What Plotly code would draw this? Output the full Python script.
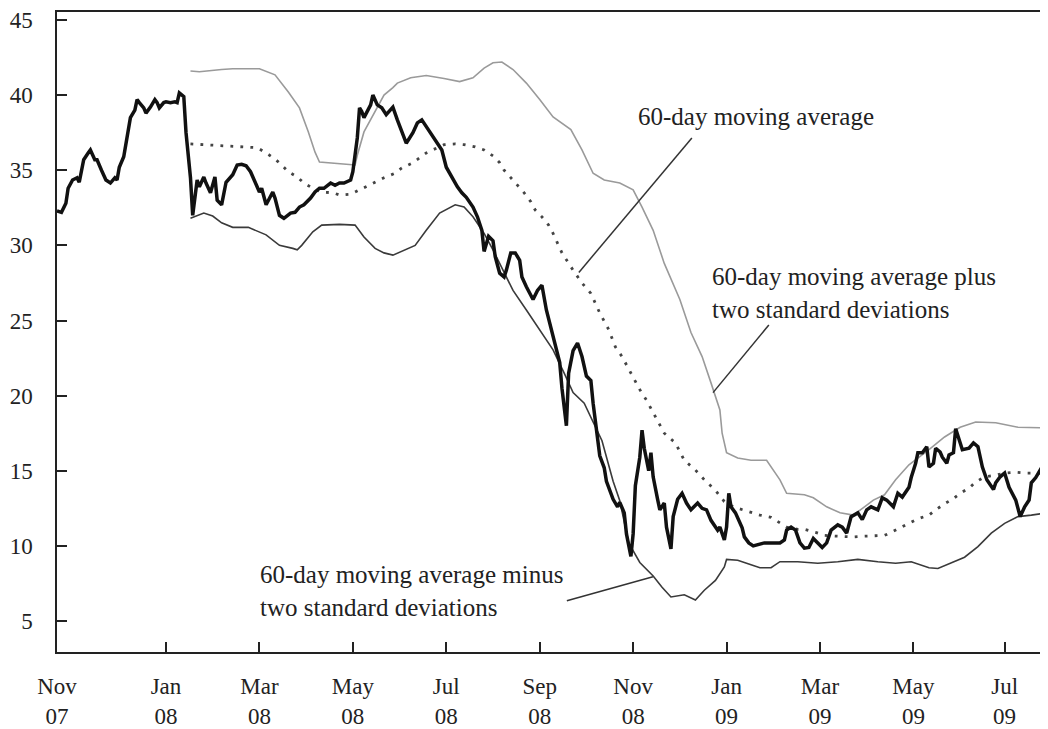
import plotly.graph_objects as go

# x = trading-day index from the start of the sample (late Oct 2007)
price_day = [0, 2, 4, 5, 7, 9, 10, 12, 14, 15, 17, 18, 20, 22, 24, 26, 27, 28, 30, 31, 33, 35, 36, 37, 39, 40,
             42, 44, 45, 46, 48, 49, 51, 53, 54, 55, 57, 58, 59, 60, 61, 62, 63, 64, 66, 67, 69, 71, 72, 74,
             76, 79, 81, 83, 85, 87, 89, 91, 92, 94, 97, 98, 100, 102, 105, 107, 109, 111, 114, 116, 118, 120,
             123, 125, 127, 129, 132, 133, 135, 136, 137, 138, 141, 142, 144, 146, 148,
             151, 153, 155, 157, 160, 162, 164, 166, 169, 171, 173, 175, 178, 180, 182, 184, 187, 189, 191, 192,
             194, 196, 197, 199, 201, 202, 204, 206, 208, 209, 211, 214, 216, 218, 220, 222,
             224, 226, 227, 229, 230, 232, 234, 236, 238, 240, 241, 243, 244, 246, 247, 250, 252, 253, 255, 256,
             258, 259, 260, 262, 263, 264, 266, 267, 268, 270, 271, 273, 274, 276, 277, 279, 281, 283, 285, 288,
             290, 292, 294, 297,
             298, 300, 301, 302, 303, 305, 307, 308, 309, 311, 313, 316, 318, 320, 322, 325, 327, 328, 330, 332,
             334, 336, 338, 340, 342, 344, 346, 348, 351, 353, 355, 357, 360, 362, 364, 366, 369, 371,
             373, 376, 378, 380, 383, 384, 386, 387, 389, 391, 392, 394, 395, 397, 398, 400, 401, 403, 404, 406,
             407, 410, 412, 414, 416, 418, 419, 421, 422, 424, 426, 428, 431, 432, 433, 435, 437, 438, 440, 442, 445]
price_val = [32.3, 32.2, 32.8, 33.8, 34.35, 34.5, 34.2, 35.7, 36.15, 36.35, 35.7, 35.7, 35.0, 34.35, 34.15, 34.5,
             34.35, 35.2, 35.9, 36.8, 38.5, 39.0, 39.7, 39.5, 39.15, 38.8,
             39.2, 39.7, 39.5, 39.15, 39.5, 39.55, 39.5, 39.55, 39.5, 40.15, 39.9, 37.5, 35.9, 34.5, 32.0, 33.0,
             34.35, 33.9, 34.55, 34.15, 33.5, 34.55, 33.0, 32.7,
             34.2, 34.7, 35.35, 35.4, 35.3, 34.9, 34.2, 33.55, 33.8, 32.7, 33.55, 33.15, 32.0, 31.8, 32.15, 32.2,
             32.55, 32.7, 33.15, 33.55, 33.8, 33.8,
             34.15, 34.0, 34.15, 34.15, 34.35, 34.9, 37.15, 39.15, 38.9, 38.5, 39.35, 40.0, 39.35, 39.15, 38.7,
             39.2, 38.35, 37.5, 36.8, 37.5, 38.15, 38.35, 37.9, 37.2, 36.8, 36.35, 35.2, 34.35, 33.9, 33.5, 33.2,
             32.55, 31.9, 31.0, 29.6,
             30.6, 30.3, 29.25, 28.15, 27.9, 28.35, 29.5, 29.5, 29.0, 27.9, 27.25, 26.4, 27.0, 27.35, 25.7, 24.5,
             23.2, 22.2, 20.5, 18.0, 21.5, 23.0, 23.5, 22.6, 21.3, 21.0, 19.5, 17.3, 16.0, 15.2, 14.3, 13.1,
             12.6, 12.9, 12.2, 10.8,
             9.3, 10.8, 14.0, 15.9, 17.7, 16.5, 15.0, 16.2, 14.6, 13.1, 12.4, 12.85, 11.25, 9.8, 11.95, 13.1,
             13.5, 12.85, 12.4, 12.85,
             12.5, 12.4, 11.7, 11.05,
             11.25, 10.4, 11.25, 13.5, 12.6, 12.2, 11.5, 11.2, 10.6, 10.2, 10.0, 10.1, 10.2, 10.2, 10.2, 10.2,
             10.4, 11.05, 11.25, 11.05,
             10.2, 9.85, 9.9, 10.5, 10.2, 9.9, 10.2, 11.05, 11.4, 11.25, 10.85, 11.95, 12.2, 11.75, 12.4, 12.6,
             12.4, 13.2,
             13.05, 12.6, 13.5, 13.25, 13.9, 14.55, 15.5, 16.2, 16.2, 16.6, 15.25, 15.5, 16.5, 16.25, 15.9, 15.5,
             16.05, 16.2, 17.8, 16.85,
             16.4, 16.5, 16.85, 16.6, 15.25, 14.4, 14.2, 13.75, 14.2, 14.6, 14.85, 13.9, 13.05, 12.4, 11.95, 12.6,
             13.05, 14.2, 14.55, 15.05, 14.55]

ma_day = [60, 76, 90, 94, 98, 101, 104, 108, 111, 115, 119, 124, 127, 132, 136, 139, 143, 147, 152, 155, 160,
          163, 166, 171, 174, 179, 183, 188, 192, 196, 199, 201, 204, 207, 210, 213, 215, 218, 221, 223, 227, 232,
          236, 240, 244, 248, 251, 254, 258, 262, 265, 269, 273, 278, 282, 287, 291, 296, 300, 304, 308, 312, 316,
          321, 325, 328, 333, 336, 341, 345, 350, 354, 358, 363, 367, 372, 375, 379, 383, 387, 392, 395, 399, 403,
          406, 410, 413, 417, 422, 426, 431, 435, 440, 445]
ma_val = [36.75, 36.6, 36.5, 36.15, 35.75, 35.35, 34.9, 34.55, 34.15, 33.8, 33.55, 33.5, 33.35, 33.4, 33.7, 33.9,
          34.2, 34.5, 34.8, 35.15, 35.5, 35.8, 36.15, 36.5, 36.7, 36.75, 36.7, 36.55, 36.35, 35.95, 35.5, 35.0,
          34.5, 33.95, 33.5, 32.9, 32.35, 31.9, 31.35, 30.8, 29.5, 28.35, 27.5, 26.8, 25.5, 24.4, 23.25, 22.6,
          21.5, 20.4, 19.7, 18.6, 17.5, 16.85, 15.7, 15.05, 14.4, 13.7, 12.95, 12.6, 12.4, 12.2, 12.05, 11.9,
          11.5, 11.25, 11.1, 11.1, 10.9, 10.7, 10.65, 10.6, 10.6, 10.65, 10.65, 10.7, 10.9, 11.2, 11.45, 11.8,
          12.05, 12.4, 12.8, 13.15, 13.5, 13.85, 14.25, 14.6, 14.7, 14.85, 14.9, 14.85, 14.85, 14.8]

upper_day = [60, 64, 74, 79, 91, 92, 98, 104, 109, 113, 116, 118, 124, 130, 134, 135, 138, 143, 147, 151, 153,
             159, 166, 174, 181, 187, 192, 196, 200, 205, 211, 217, 223, 231, 236, 241, 246, 253, 259, 263, 268,
             273, 280, 285, 290, 294, 298, 299, 301, 306, 312, 319, 322, 325, 328, 336, 340, 346, 352, 358, 363,
             367, 372, 377, 383, 392, 399, 406, 413, 422, 432, 444]
upper_val = [41.6, 41.55, 41.7, 41.75, 41.75, 41.7, 41.35, 40.2, 39.15, 37.55, 36.2, 35.55, 35.5, 35.4, 35.35,
             36.0, 37.55, 38.9, 40.0, 40.5, 40.8, 41.15, 41.3, 41.1, 40.9, 41.15, 41.8, 42.15, 42.2, 41.7, 40.8,
             39.7, 38.55, 37.7, 36.35, 34.8, 34.35, 34.15, 33.7, 32.55, 31.0, 28.8, 26.4, 24.2, 22.6, 20.85,
             19.05, 17.5, 16.2, 15.85, 15.7, 15.7, 15.05, 14.4, 13.5, 13.4, 13.2, 12.6, 12.2, 12.05, 12.6, 13.05,
             13.4, 14.4, 15.4, 16.4, 17.25, 17.9, 18.25, 18.2, 17.9, 17.85]

lower_day = [60, 66, 70, 74, 79, 86, 94, 100, 106, 108, 110, 115, 119, 127, 134, 138, 143, 147, 151, 154, 161,
             166, 172, 179, 183, 187, 192, 196, 201, 205, 211, 217, 223, 228, 232, 237, 245, 250, 253, 257, 262,
             268, 272, 276, 282, 287, 291, 296, 300, 301, 306, 312, 316, 321, 325, 333, 342, 351, 360, 369, 377,
             384, 392, 396, 402, 408, 414, 420, 426, 432, 438, 445]
lower_val = [31.8, 32.15, 31.95, 31.5, 31.2, 31.2, 30.7, 30.0, 29.8, 29.7, 30.0, 30.9, 31.35, 31.4, 31.35, 30.55,
             29.8, 29.5, 29.35, 29.55, 30.0, 31.0, 32.15, 32.7, 32.55, 31.9, 30.8, 29.7, 28.15, 27.0, 25.7, 24.4,
             23.05, 21.5, 20.2, 19.5, 17.0, 14.3, 13.0, 10.2, 8.9, 8.0, 7.25, 6.6, 6.75, 6.4, 7.05, 7.7, 8.6, 9.1,
             9.05, 8.75, 8.55, 8.55, 8.95, 8.95, 8.85, 8.95, 9.1, 8.95, 8.85, 8.95, 8.55, 8.5, 8.85, 9.25, 9.95,
             10.85, 11.5, 11.95, 12.05, 12.2]

tick_days = [0, 49, 91, 133, 175, 217, 259, 301, 343, 385, 426]
tick_text = ["Nov<br>07", "Jan<br>08", "Mar<br>08", "May<br>08", "Jul<br>08", "Sep<br>08", "Nov<br>08",
             "Jan<br>09", "Mar<br>09", "May<br>09", "Jul<br>09"]
y_ticks = [5, 10, 15, 20, 25, 30, 35, 40, 45]

FONT = "Liberation Serif"
INK = "#222222"

fig = go.Figure()
fig.add_trace(go.Scatter(x=upper_day, y=upper_val, mode="lines", line=dict(color="#9a9a9a", width=1.6),
                         hoverinfo="skip"))
fig.add_trace(go.Scatter(x=lower_day, y=lower_val, mode="lines", line=dict(color="#3a3a3a", width=1.6),
                         hoverinfo="skip"))
fig.add_trace(go.Scatter(x=ma_day, y=ma_val, mode="lines",
                         line=dict(color="#444444", width=2.8, dash="2.8px,7.2px"), hoverinfo="skip"))
fig.add_trace(go.Scatter(x=price_day, y=price_val, mode="lines", line=dict(color="#111111", width=3.5),
                         hoverinfo="skip"))

line_style = dict(color="#333333", width=1.5)
fig.add_shape(type="line", xref="x", yref="y", x0=285.4, y0=37.15, x1=234.6, y1=28.2, line=line_style)
fig.add_shape(type="line", xref="x", yref="y", x0=294.9, y0=20.2, x1=320.0, y1=24.7, line=line_style)
fig.add_shape(type="line", xref="x", yref="y", x0=229.2, y0=6.35, x1=267.9, y1=7.95, line=line_style)

ann_font = dict(family=FONT, size=25, color=INK)
fig.add_annotation(x=260.3, y=38.6, xref="x", yref="y", text="60-day moving average", showarrow=False,
                   xanchor="left", yanchor="middle", font=ann_font)
fig.add_annotation(x=293.5, y=26.8, xref="x", yref="y",
                   text="60-day moving average plus<br>two standard deviations", showarrow=False,
                   xanchor="left", yanchor="middle", align="left", font=ann_font)
fig.add_annotation(x=90.3, y=7.0, xref="x", yref="y",
                   text="60-day moving average minus<br>two standard deviations", showarrow=False,
                   xanchor="left", yanchor="middle", align="left", font=ann_font)

# the page body adds an 8px offset, so the figure is sized to fill the rest of the window
fig.update_layout(
    width=1040, height=721,
    margin=dict(l=49, r=0, t=4, b=77, autoexpand=False),
    paper_bgcolor="white", plot_bgcolor="white",
    showlegend=False,
    font=dict(family=FONT, color=INK),
    xaxis=dict(range=[0, 445.5], tickmode="array", tickvals=tick_days, ticktext=tick_text,
               ticks="inside", ticklen=10, tickwidth=1.5, tickcolor=INK,
               showline=True, linecolor=INK, linewidth=1.5, mirror=True, automargin=False,
               showgrid=False, zeroline=False, tickfont=dict(family=FONT, size=23, color=INK),
               ticklabelstandoff=13),
    yaxis=dict(range=[2.94, 45.53], tickmode="array", tickvals=y_ticks,
               ticks="inside", ticklen=10, tickwidth=1.5, tickcolor=INK,
               showline=True, linecolor=INK, linewidth=1.5, automargin=False,
               showgrid=False, zeroline=False, tickfont=dict(family=FONT, size=23, color=INK),
               ticklabelstandoff=18),
)

fig.write_html("out.html")
